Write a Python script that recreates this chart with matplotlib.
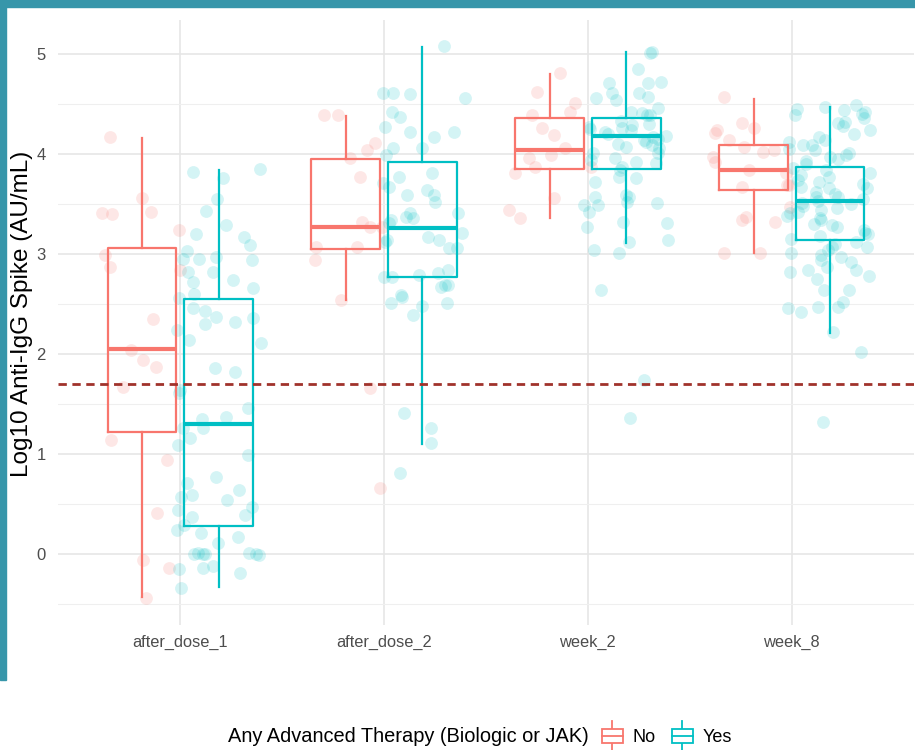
import numpy as np
import matplotlib
matplotlib.use("Agg")
import matplotlib.pyplot as plt
from matplotlib.patches import Rectangle
from matplotlib.lines import Line2D
from matplotlib.legend_handler import HandlerBase

timepoints = ["after_dose_1", "after_dose_2", "week_2", "week_8"]
groups = ["No", "Yes"]
colors = {"No": "#F8766D", "Yes": "#00BFC4"}
threshold = 1.7

# lower whisker, q1, median, q3, upper whisker per timepoint
box_no = [
    [-0.43, 1.22, 2.05, 3.06, 4.16],
    [2.54, 3.05, 3.27, 3.95, 4.38],
    [3.36, 3.85, 4.04, 4.36, 4.80],
    [3.01, 3.64, 3.84, 4.09, 4.55],
]
box_yes = [
    [-0.33, 0.28, 1.30, 2.55, 3.84],
    [1.10, 2.77, 3.26, 3.92, 5.07],
    [3.11, 3.85, 4.18, 4.36, 5.02],
    [2.21, 3.14, 3.53, 3.87, 4.47],
]

# individual log10 titres
dose1_no = [4.17, 3.56, 3.42, 3.41, 3.40, 3.24, 2.99, 2.87, 2.84, 2.35, 2.04, 1.94,
            1.87, 1.67, 1.14, 0.94, 0.41, -0.06, -0.14, -0.44]
dose1_yes = [3.85, 3.82, 3.76, 3.55, 3.43, 3.29, 3.20, 3.17, 3.09, 3.03, 2.97, 2.95,
             2.95, 2.94, 2.82, 2.82, 2.74, 2.72, 2.66, 2.60, 2.56, 2.46, 2.43, 2.37,
             2.36, 2.32, 2.30, 2.24, 2.14, 2.11, 1.86, 1.82, 1.64, 1.61, 1.46, 1.37,
             1.35, 1.26, 1.26, 1.16, 1.09, 0.99, 0.77, 0.71, 0.64, 0.59, 0.57, 0.54,
             0.47, 0.44, 0.39, 0.37, 0.29, 0.24, 0.21, 0.17, 0.11, 0.01, 0.00, 0.00,
             0.01, -0.01, 0.00, 0.00, -0.12, -0.14, -0.19, -0.15, -0.34]
dose2_no = [4.39, 4.39, 4.11, 4.04, 3.96, 3.77, 3.32, 3.27, 3.27, 3.07, 3.07, 2.94,
            2.54, 1.66, 0.66]
dose2_yes = [5.08, 4.61, 4.60, 4.61, 4.56, 4.42, 4.37, 4.22, 4.27, 4.22, 4.17, 4.06,
             4.06, 3.99, 3.81, 3.77, 3.71, 3.67, 3.64, 3.59, 3.59, 3.52, 3.41, 3.34,
             3.37, 3.36, 3.41, 3.31, 3.14, 3.17, 3.21, 3.06, 3.14, 3.12, 3.06, 2.81,
             2.77, 2.79, 2.77, 2.84, 2.67, 2.69, 2.69, 2.57, 2.51, 2.59, 2.51, 2.39,
             2.48, 1.41, 1.26, 1.11, 0.81]
week2_no = [4.81, 4.62, 4.42, 4.39, 4.51, 4.26, 4.19, 4.06, 3.99, 3.96, 3.87, 3.81,
            3.87, 3.56, 3.44, 3.36]
week2_yes = [5.02, 5.01, 4.85, 4.72, 4.71, 4.71, 4.61, 4.61, 4.57, 4.54, 4.56, 4.46,
             4.41, 4.39, 4.42, 4.39, 4.26, 4.29, 4.27, 4.24, 4.17, 4.14, 4.09, 4.07,
             4.06, 4.01, 4.01, 3.96, 3.94, 3.92, 3.87, 3.84, 3.91, 3.72, 3.76, 3.77,
             3.57, 3.59, 3.57, 3.52, 3.51, 3.49, 3.49, 3.42, 3.32, 3.31, 3.27, 3.14,
             3.12, 3.04, 3.01, 2.64, 1.74, 1.36, 4.20, 4.22, 4.15, 4.30, 4.33, 4.10,
             4.12, 4.18, 4.25]
week8_no = [4.57, 4.31, 4.26, 4.24, 4.21, 4.14, 4.07, 4.04, 4.02, 3.97, 3.92, 3.84,
            3.81, 3.69, 3.67, 3.69, 3.47, 3.37, 3.32, 3.34, 3.01, 3.01]
week8_yes = [4.39, 4.44, 4.49, 4.42, 4.47, 4.45, 4.36, 4.40, 4.24, 4.31, 4.32, 4.17,
             4.09, 4.09, 4.01, 4.04, 3.99, 3.97, 3.84, 3.81, 3.79, 3.77, 3.67, 3.66,
             3.66, 3.57, 3.51, 3.57, 3.44, 3.42, 3.41, 3.34, 3.27, 3.29, 3.24, 3.21,
             3.07, 3.12, 3.04, 3.07, 2.99, 2.94, 3.01, 2.84, 2.84, 2.82, 2.87, 2.64,
             2.64, 2.47, 2.52, 2.42, 2.46, 2.47, 2.22, 2.02, 1.32, 4.20, 4.12, 4.05,
             3.95, 3.90, 3.86, 3.74, 3.72, 3.62, 3.60, 3.55, 3.53, 3.48, 3.46, 3.38,
             3.36, 3.30, 3.18, 3.15, 3.10, 2.97, 2.92, 2.78, 2.75, 4.28, 4.14, 3.93,
             3.70, 3.50, 3.20]

points_no = [dose1_no, dose2_no, week2_no, week8_no]
points_yes = [dose1_yes, dose2_yes, week2_yes, week8_yes]

font = ["Liberation Sans", "DejaVu Sans"]


class BoxKey(HandlerBase):
    # small boxplot glyph for the legend keys
    def create_artists(self, legend, orig_handle, xdescent, ydescent,
                       width, height, fontsize, trans):
        c = orig_handle.get_color()
        x0 = -xdescent
        y0 = -ydescent
        xm = x0 + width / 2
        whisk = Line2D([xm, xm], [y0 - 0.2 * height, y0 + 1.2 * height],
                       color=c, lw=1.3, transform=trans)
        box = Rectangle((x0, y0 + 0.15 * height), width, 0.7 * height,
                        facecolor="white", edgecolor=c, lw=1.3, transform=trans)
        med = Line2D([x0, x0 + width], [y0 + 0.5 * height] * 2,
                     color=c, lw=1.3, transform=trans)
        return [whisk, box, med]


fig = plt.figure(figsize=(9.15, 7.5), dpi=100)
ax = fig.add_axes([58 / 915, 1 - 625 / 750, 856 / 915, 605 / 750])

rng = np.random.default_rng(11)
dodge = 0.1875
for i in range(len(timepoints)):
    for g, off, stats, pts in (("No", -dodge, box_no[i], points_no[i]),
                                ("Yes", dodge, box_yes[i], points_yes[i])):
        pos = i + 1 + off
        c = colors[g]
        xs = pos + rng.uniform(-0.21, 0.21, len(pts))
        ax.scatter(xs, pts, s=85, color=c, alpha=0.17, linewidths=0, zorder=2)
        lo, q1, med, q3, hi = stats
        ax.bxp([dict(whislo=lo, q1=q1, med=med, q3=q3, whishi=hi, fliers=[])],
               positions=[pos], widths=0.3375, showfliers=False, showcaps=False,
               boxprops=dict(color=c, lw=1.6),
               whiskerprops=dict(color=c, lw=1.6),
               medianprops=dict(color=c, lw=3.0),
               zorder=3)

ax.axhline(threshold, color="#A0322B", lw=2.0, dashes=(3, 2), zorder=4)

ax.set_xlim(0.4, 4.6)
ax.set_ylim(-0.71, 5.34)
ax.set_xticks(range(1, 5))
ax.set_xticklabels(timepoints)
ax.set_yticks(range(0, 6))
ax.set_yticks(np.arange(-0.5, 5.0, 1.0), minor=True)
ax.grid(which="major", color="#E6E6E6", lw=1.2)
ax.grid(which="minor", axis="y", color="#EFEFEF", lw=0.8)
ax.set_axisbelow(True)
for s in ax.spines.values():
    s.set_visible(False)
ax.tick_params(which="both", length=0, labelcolor="#4D4D4D")
ax.tick_params(axis="y", pad=9, labelsize=12)
ax.tick_params(axis="x", pad=7, labelsize=11.8)
for lab in ax.get_xticklabels() + ax.get_yticklabels():
    lab.set_family(font)
ax.set_ylabel("Log10 Anti-IgG Spike (AU/mL)", fontsize=17.5, family=font)
ax.yaxis.set_label_coords(-25 / 856, 0.515)

# legend at the bottom: title on the left, keys to the right
fig.text(228 / 915, 1 - 736 / 750, "Any Advanced Therapy (Biologic or JAK)",
         ha="left", va="center", fontsize=14.4, family=font)
handles = [Line2D([], [], color=colors[g]) for g in groups]
leg = fig.legend(handles, groups, handler_map={Line2D: BoxKey()},
                 loc="center left", bbox_to_anchor=(602 / 915, 1 - 736 / 750),
                 ncol=2, frameon=False, handlelength=1.15, handleheight=1.4,
                 columnspacing=0.9, handletextpad=0.55, borderpad=0,
                 borderaxespad=0, prop=dict(family=font, size=13))

# teal frame along the top and left edges
frame = "#3796AA"
fig.patches.append(Rectangle((0, 1 - 7 / 750), 1, 7 / 750, transform=fig.transFigure,
                             color=frame, zorder=10))
fig.patches.append(Rectangle((0, 1 - 680 / 750), 6 / 915, 680 / 750,
                             transform=fig.transFigure, color=frame, zorder=10))

fig.savefig("out.png", dpi=100)
